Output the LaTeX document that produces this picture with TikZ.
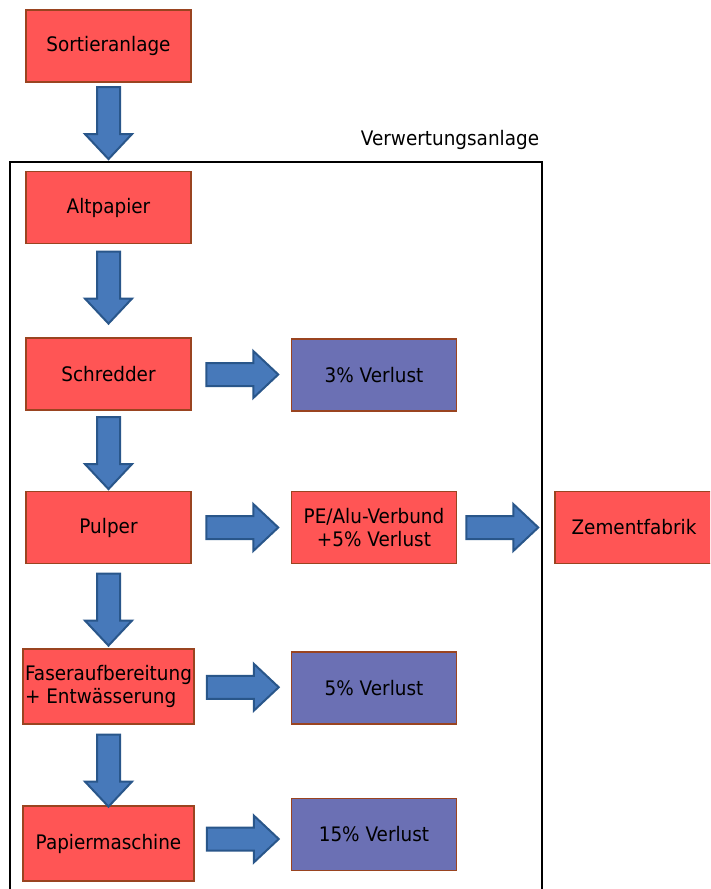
\documentclass[tikz,border=0pt]{standalone}
\usepackage{fontspec}
\setmainfont{DejaVu Sans}[FakeStretch=0.92]
\usetikzlibrary{calc}
\definecolor{boxred}{HTML}{FF5555}
\definecolor{boxblue}{HTML}{6B70B4}
\definecolor{boxedge}{HTML}{9A4420}
\definecolor{arrowfill}{HTML}{4779BA}
\definecolor{arrowedge}{HTML}{29568A}
\begin{document}
\begin{tikzpicture}[x=1pt,y=1pt,
  box/.style={draw=boxedge, line width=1.2pt, minimum width=165pt, minimum height=72pt,
    inner sep=0pt, align=center, font=\fontsize{20}{23}\selectfont},
  redbox/.style={box, fill=boxred},
  lossbox/.style={box, fill=boxblue},
  blkline/.style={draw=arrowedge, fill=arrowfill, line width=2pt, line join=miter},
  % block arrow drawn from its tail (origin) towards +x
  blockarrow/.pic={\path[blkline] (0,11.5) -- (47,11.5) -- (47,23.5) -- (72,0)
      -- (47,-23.5) -- (47,-11.5) -- (0,-11.5) -- cycle;}]
\useasboundingbox (0,0) rectangle (710,-889);
\clip (0,0) rectangle (710,-889);

% plant frame and its title
\draw[line width=1.5pt] (10,-162) rectangle (542,-900);
\node[font=\fontsize{20}{24}\selectfont] (title) at (450,-140) {Verwertungsanlage};

% process chain
\node[redbox] (sort) at (108.5,-46) {Sortieranlage};
\node[redbox] (alt) at (108.5,-207.5) {Altpapier};
\node[redbox] (schred) at (108.5,-374) {Schredder};
\node[redbox] (pulp) at (108.5,-527.5) {Pulper};
\node[redbox, minimum width=171pt, minimum height=75pt, align=left] (faser) at (108.5,-686.5)
  {Faseraufbereitung\\+ Entwässerung};
\node[redbox, minimum width=171pt, minimum height=75pt] (papier) at (108.5,-843.5) {Papiermaschine};

% outputs
\node[lossbox] (v3) at (374,-375) {3\% Verlust};
\node[redbox] (pe) at (374,-527.5) {PE/Alu-Verbund\\+5\% Verlust};
\node[lossbox] (v5) at (374,-688) {5\% Verlust};
\node[lossbox] (v15) at (374,-834.5) {15\% Verlust};
\node[redbox, minimum width=158pt] (zement) at (634,-527.5) {Zementfabrik};

% block arrows down the chain
\pic[rotate=-90] at ($(sort.south)+(0,-4.5)$) {blockarrow};
\pic[rotate=-90] at ($(alt.south)+(0,-7.5)$) {blockarrow};
\pic[rotate=-90] at ($(schred.south)+(0,-6.5)$) {blockarrow};
\pic[rotate=-90] at ($(pulp.south)+(0,-9.5)$) {blockarrow};
\pic[rotate=-90] at ($(faser.south)+(0,-10)$) {blockarrow};

% block arrows to the outputs
\pic at ($(schred.east)!0.5!(v3.west)+(-35,0)$) {blockarrow};
\pic at ($(pulp.east)!0.5!(pe.west)+(-35,0)$) {blockarrow};
\pic at ($(faser.east)!0.5!(v5.west)+(-36,0)$) {blockarrow};
\pic at ($(papier.east)!0.5!(v15.west)+(-36,0)$) {blockarrow};
\pic at ($(pe.east)!0.5!(zement.west)+(-39.5,0)$) {blockarrow};
\end{tikzpicture}
\end{document}
